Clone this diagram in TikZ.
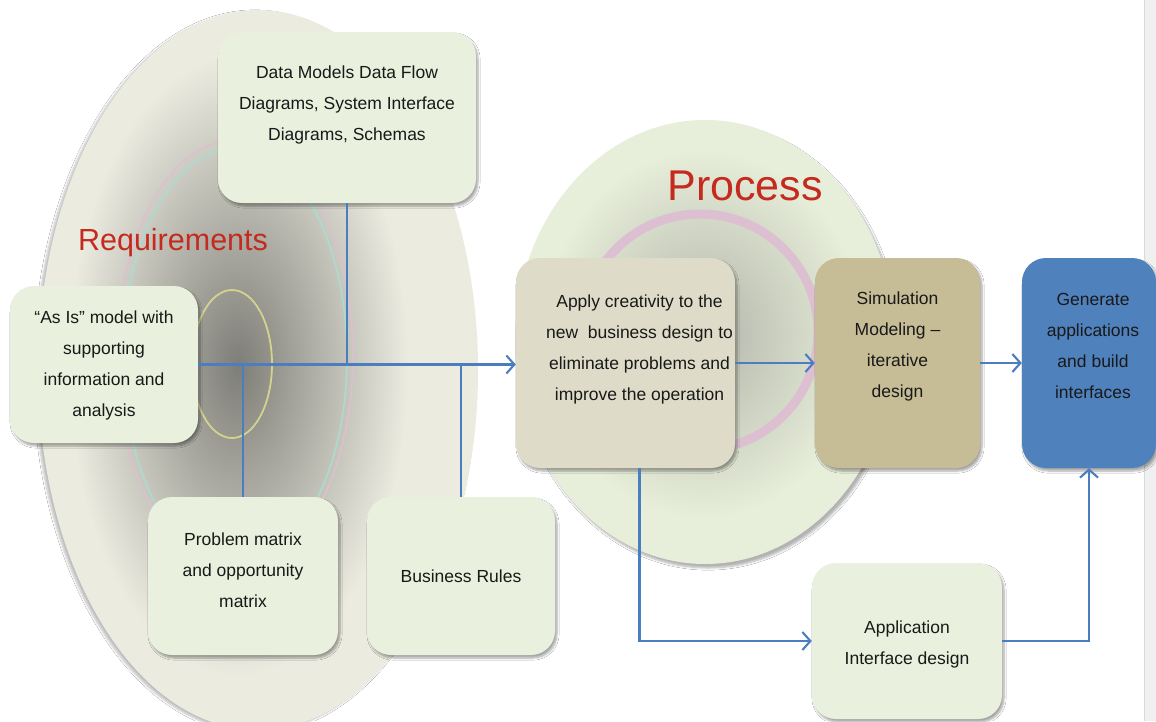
\documentclass[tikz,border=0pt]{standalone}
\usepackage{fontspec}
\setmainfont{Liberation Sans}
\usetikzlibrary{arrows.meta,shadows,shadows.blur,positioning}

\definecolor{cardgreen}{HTML}{E9F0DD}
\definecolor{cardbeige}{HTML}{DEDCC8}
\definecolor{cardkhaki}{HTML}{C6BD96}
\definecolor{cardblue}{HTML}{4F81BD}
\definecolor{linkblue}{HTML}{4A7EC0}
\definecolor{titlered}{HTML}{C42A1E}
\definecolor{reqbeige}{HTML}{ECEBE0}
\definecolor{reqgray}{HTML}{7E7E78}
\definecolor{procgreen}{HTML}{E7EED9}
\definecolor{procgray}{HTML}{B2B5AA}
\definecolor{ringpink}{HTML}{DCC0D1}
\definecolor{ringcyan}{HTML}{A9DCD2}
\definecolor{ringolive}{HTML}{D3D38E}

\tikzset{
  card/.style={fill=cardgreen, rounded corners=24pt, inner sep=0pt,
    blur shadow={shadow blur steps=6, shadow xshift=2pt, shadow yshift=-3pt, shadow opacity=35}},
  cardtext/.style={align=center, text=black!90, font=\fontsize{17.5}{31}\selectfont},
  title/.style={text=titlered},
  link/.style={draw=linkblue, line width=2.1pt},
  arr/.style={link, -{Straight Barb[length=8pt,width=18pt]}}
}

\begin{document}
\begin{tikzpicture}[x=1pt,y=-1pt]
\useasboundingbox (0,0) rectangle (1156,721);
\fill[white] (0,0) rectangle (1156,721);

% Page edge
\fill[black!6] (1144,0) rectangle (1156,721);
\draw[black!15] (1144,0) -- (1144,721);

% Requirements ellipse
\fill[reqbeige, blur shadow={shadow blur steps=6, shadow xshift=-3pt, shadow yshift=-2pt, shadow opacity=25}] (258,370) ellipse [x radius=220pt, y radius=360pt];
\shade[inner color=reqgray, outer color=reqbeige] (238,366) ellipse [x radius=170pt, y radius=310pt];
\draw[ringpink, line width=1.5pt] (235,355) ellipse [x radius=118pt, y radius=215pt];
\draw[ringcyan, line width=1.5pt] (235,357) ellipse [x radius=112pt, y radius=208pt];
\draw[ringolive, line width=1.8pt] (232,364) ellipse [x radius=40pt, y radius=74pt];

% Process circle
\fill[procgreen, blur shadow={shadow blur steps=6, shadow xshift=3pt, shadow yshift=-4pt, shadow opacity=30}] (705,342) ellipse [x radius=190pt, y radius=222pt];
\shade[inner color=procgray, outer color=procgreen] (703,334) ellipse [x radius=160pt, y radius=185pt];
\draw[ringpink, line width=9pt] (700,332) circle [radius=118pt];
\draw[ringcyan, line width=1.5pt] (706,330) circle [radius=28pt];

% Titles
\node[title, font=\fontsize{30.5}{36}\selectfont] (reqtitle) at (173,243) {Requirements};
\node[title, font=\fontsize{43}{50}\selectfont] (proctitle) at (745,186) {Process};

% Cards
\node[card, minimum width=258pt, minimum height=171pt] (data) at (347,117.5) {};
\node[card, minimum width=188pt, minimum height=157pt] (asis) at (104,364.5) {};
\node[card, minimum width=190pt, minimum height=158pt] (prob) at (243,576) {};
\node[card, minimum width=188pt, minimum height=158pt] (rules) at (461,576) {};
\node[card, fill=cardbeige, minimum width=219pt, minimum height=210pt] (apply) at (625.5,363) {};
\node[card, fill=cardkhaki, minimum width=165pt, minimum height=210pt] (sim) at (897.5,363) {};
\node[card, fill=cardblue, minimum width=134pt, minimum height=210pt] (gen) at (1089,363) {};
\node[card, minimum width=190pt, minimum height=156pt] (app) at (907,641) {};

% Card texts
\node[cardtext] (data-t) at ([yshift=13pt]data.center) {Data Models Data Flow\\Diagrams, System Interface\\Diagrams, Schemas};
\node[cardtext] (asis-t) at ([yshift=-1pt]asis.center) {``As Is'' model with\\supporting\\information and\\analysis};
\node[cardtext] (prob-t) at ([yshift=6pt]prob.center) {Problem matrix\\and opportunity\\matrix};
\node[cardtext] (rules-t) at (rules.center) {Business Rules};
\node[cardtext] (apply-t) at ([xshift=14pt,yshift=14pt]apply.center) {Apply creativity to the\\new~~business design to\\eliminate problems and\\improve the operation};
\node[cardtext] (sim-t) at ([yshift=17pt]sim.center) {Simulation\\Modeling --\\iterative\\design};
\node[cardtext] (gen-t) at ([xshift=4pt,yshift=17pt]gen.center) {Generate\\applications\\and build\\interfaces};
\node[cardtext] (app-t) at ([yshift=-3pt]app.center) {Application\\Interface design};

% Connectors
\coordinate (drop) at ([xshift=14pt]apply.south);
\draw[link] (data.south) -- (data.south |- asis.east);
\draw[link] (prob.north) -- (prob.north |- asis.east);
\draw[link] (rules.north) -- (rules.north |- asis.east);
\draw[arr] (asis.east) -- (asis.east -| apply.west);
\draw[arr] (apply.east) -- (sim.west);
\draw[arr] (sim.east) -- (gen.west);
\draw[arr] (drop) |- (app.west);
\draw[arr] (app.east) -| (gen.south);

\end{tikzpicture}
\end{document}
